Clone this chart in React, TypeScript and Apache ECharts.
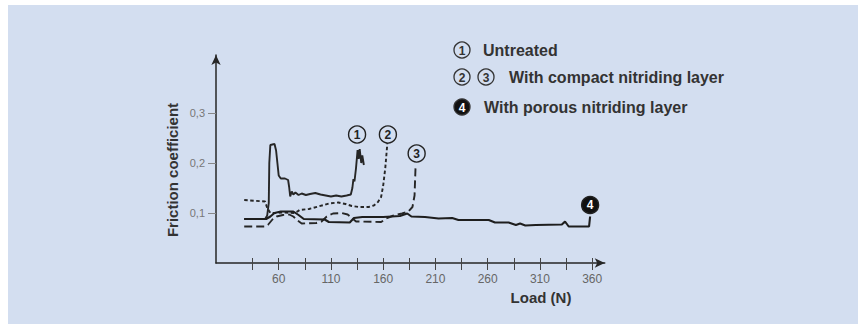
import React, { useEffect, useRef } from "react";
import * as echarts from "echarts";

// ---- axis values ----
const xTickValues = [35, 60, 85, 110, 135, 160, 185, 210, 235, 260, 285, 310, 335, 360];
const xLabelValues = [60, 110, 160, 210, 260, 310, 360];
const yTickValues = [0.1, 0.2, 0.3];

// ---- series values: [load (N), friction coefficient] ----
const untreated: [number, number][] = [
  [27, 0.088], [47, 0.088], [49, 0.095], [50.5, 0.12], [51, 0.2], [52, 0.236], [56, 0.238],
  [57.5, 0.225], [60, 0.175], [62, 0.169], [66, 0.169], [69, 0.166], [70, 0.152], [71, 0.133],
  [72.5, 0.143], [74, 0.137], [76, 0.141], [79, 0.136], [82, 0.139], [86, 0.136], [90, 0.138],
  [95, 0.14], [100, 0.137], [105, 0.135], [110, 0.133], [115, 0.135], [120, 0.133], [125, 0.135],
  [129, 0.137], [130.5, 0.15], [131.5, 0.168], [132.5, 0.163], [134, 0.19], [135.5, 0.226],
  [136.5, 0.208], [137.5, 0.228], [139, 0.2], [140, 0.215], [141.5, 0.196],
];

const compact2: [number, number][] = [
  [27, 0.126], [47, 0.123], [49, 0.11], [52, 0.1], [58, 0.1], [66, 0.101], [74, 0.1], [78, 0.103],
  [80, 0.106], [89, 0.108], [98, 0.113], [108, 0.119], [117, 0.121], [124, 0.118], [130, 0.114],
  [137, 0.112], [146, 0.112], [151, 0.115], [155, 0.122], [158, 0.132], [160, 0.155], [162, 0.19],
  [164, 0.24],
];

const compact3: [number, number][] = [
  [27, 0.073], [47, 0.073], [50, 0.077], [54, 0.087], [58, 0.093], [64, 0.096], [70, 0.097],
  [74, 0.093], [78, 0.085], [82, 0.079], [96, 0.08], [101, 0.083], [106, 0.093], [112, 0.099],
  [120, 0.1], [126, 0.097], [130, 0.09], [134, 0.083], [158, 0.082], [163, 0.089], [170, 0.095],
  [178, 0.099], [184, 0.103], [188, 0.112], [190, 0.135], [191, 0.195],
];

const porous: [number, number][] = [
  [27, 0.088], [48, 0.088], [52, 0.093], [56, 0.1], [62, 0.103], [74, 0.103], [79, 0.096],
  [84, 0.088], [104, 0.087], [108, 0.082], [128, 0.081], [132, 0.09], [140, 0.092], [160, 0.092],
  [176, 0.094], [183, 0.099], [187, 0.093], [200, 0.092], [213, 0.089], [226, 0.09], [232, 0.086],
  [261, 0.086], [267, 0.081], [280, 0.081], [287, 0.076], [291, 0.079], [296, 0.075], [306, 0.076],
  [331, 0.077], [334, 0.083], [337.5, 0.073], [357, 0.073], [358, 0.093],
];

// curve tags (circled numbers), in data coordinates
const tag1: [number, number] = [135, 0.257];
const tag2: [number, number] = [164.5, 0.257];
const tag3: [number, number] = [192, 0.219];
const tag4: [number, number] = [358, 0.116];

const legendItems = ["Untreated", "With compact nitriding layer", "With porous nitriding layer"];
const yName = "Friction coefficient";
const xName = "Load (N)";

const INK = "#262626";
const PANEL = "#d3def0";
const FONT = "'Liberation Sans', Arial, sans-serif";

function tagPoint(coord: [number, number], text: string, filled: boolean) {
  return {
    silent: true,
    animation: false,
    data: [
      {
        coord,
        symbol: "circle",
        symbolSize: 17,
        itemStyle: {
          color: filled ? "#111" : PANEL,
          borderColor: "#222",
          borderWidth: 1.4,
        },
        label: {
          show: true,
          position: "inside",
          formatter: text,
          color: filled ? "#fff" : "#222",
          fontSize: 12,
          fontWeight: "bold",
          fontFamily: FONT,
        },
      },
    ],
  };
}

function circleIcon(x: number, y: number, text: string, filled: boolean) {
  return {
    type: "group",
    children: [
      {
        type: "circle",
        shape: { cx: x, cy: y, r: 8 },
        style: { fill: filled ? "#111" : "none", stroke: "#333", lineWidth: 1.3 },
      },
      {
        type: "text",
        x,
        y: y + 0.5,
        style: {
          text,
          align: "center",
          verticalAlign: "middle",
          fill: filled ? "#fff" : "#333",
          font: `bold 12px ${FONT}`,
        },
      },
    ],
  };
}

export default function App() {
  const ref = useRef<HTMLDivElement>(null);

  useEffect(() => {
    document.body.style.margin = "0";
    if (!ref.current) return;
    const chart = echarts.init(ref.current, null, { renderer: "svg" });

    const legendText = (x: number, y: number, text: string) => ({
      type: "text",
      x,
      y,
      style: {
        text,
        align: "left",
        verticalAlign: "middle",
        fill: "#333",
        font: `bold 16px ${FONT}`,
      },
    });

    const option: any = {
      animation: false,
      backgroundColor: "#ffffff",
      grid: { left: 216, top: 55, right: 858 - 216 - 372 * 1.045, bottom: 61, containLabel: false },
      xAxis: [
        {
          type: "value",
          min: 0,
          max: 372,
          splitLine: { show: false },
          axisLine: {
            show: true,
            onZero: false,
            lineStyle: { color: INK, width: 1.5 },
            symbol: ["none", "arrow"],
            symbolSize: [7, 10],
          },
          axisTick: {
            show: true,
            length: 7,
            customValues: xTickValues,
            lineStyle: { color: "#444", width: 1 },
          },
          axisLabel: {
            show: true,
            customValues: xLabelValues,
            margin: 10,
            color: "#666",
            fontSize: 12,
            fontFamily: FONT,
          },
        },
        {
          type: "value",
          min: 0,
          max: 372,
          position: "bottom",
          splitLine: { show: false },
          axisLine: { show: false },
          axisTick: {
            show: true,
            inside: true,
            length: 5,
            customValues: xTickValues,
            lineStyle: { color: "#444", width: 1 },
          },
          axisLabel: { show: false },
        },
      ],
      yAxis: {
        type: "value",
        min: 0,
        max: 0.416,
        splitLine: { show: false },
        axisLine: {
          show: true,
          onZero: false,
          lineStyle: { color: INK, width: 1.5 },
          symbol: ["none", "arrow"],
          symbolSize: [7, 10],
        },
        axisTick: {
          show: true,
          length: 8,
          customValues: yTickValues,
          lineStyle: { color: "#888", width: 1 },
        },
        axisLabel: {
          show: true,
          customValues: yTickValues,
          margin: 11,
          color: "#777",
          fontSize: 11,
          fontFamily: FONT,
          formatter: (v: number) => v.toFixed(1).replace(".", ","),
        },
      },
      series: [
        {
          type: "line",
          data: untreated,
          showSymbol: false,
          lineStyle: { color: INK, width: 1.9 },
          markPoint: tagPoint(tag1, "1", false),
          z: 4,
        },
        {
          type: "line",
          data: compact2,
          showSymbol: false,
          lineStyle: { color: INK, width: 1.9, type: [3.5, 2.5] },
          markPoint: tagPoint(tag2, "2", false),
          z: 3,
        },
        {
          type: "line",
          data: compact3,
          showSymbol: false,
          lineStyle: { color: INK, width: 1.9, type: [8, 4] },
          markPoint: tagPoint(tag3, "3", false),
          z: 3,
        },
        {
          type: "line",
          data: porous,
          showSymbol: false,
          lineStyle: { color: "#1e1e1e", width: 2.1 },
          markPoint: tagPoint(tag4, "4", true),
          z: 5,
        },
      ],
      graphic: [
        {
          type: "rect",
          z: -10,
          silent: true,
          shape: { x: 8, y: 5, width: 850, height: 319 },
          style: { fill: PANEL },
        },
        {
          type: "text",
          x: 172,
          y: 170,
          rotation: Math.PI / 2,
          style: {
            text: yName,
            align: "center",
            verticalAlign: "middle",
            fill: "#333",
            font: `bold 15px ${FONT}`,
          },
        },
        {
          type: "text",
          x: 541,
          y: 297,
          style: {
            text: xName,
            align: "center",
            verticalAlign: "middle",
            fill: "#333",
            font: `bold 15px ${FONT}`,
          },
        },
        circleIcon(462, 50, "1", false),
        legendText(483, 50, legendItems[0]),
        circleIcon(462, 77, "2", false),
        circleIcon(486, 77, "3", false),
        legendText(509, 77, legendItems[1]),
        circleIcon(462, 107, "4", true),
        legendText(484, 107, legendItems[2]),
      ],
    };

    chart.setOption(option);
    return () => chart.dispose();
  }, []);

  return <div ref={ref} style={{ width: 858, height: 324 }} />;
}
